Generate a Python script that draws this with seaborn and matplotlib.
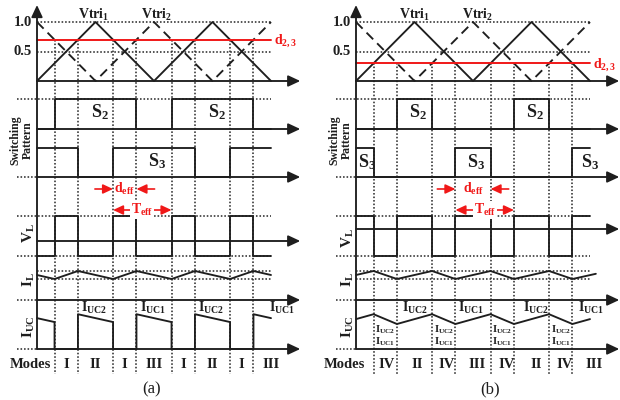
import matplotlib
matplotlib.use("Agg")
import matplotlib.pyplot as plt
import seaborn as sns

# ---------------- data ----------------
tri_t = [0, 1, 2, 3, 4]
vtri1 = [0, 1, 0, 1, 0]
vtri2 = [1, 0, 1, 0, 1]
duty_a = 0.7
duty_b = 0.3
edges = [0, 0.3, 0.7, 1.3, 1.7, 2.3, 2.7, 3.3, 3.7, 4.0]

s2_a = [0, 1, 1, 1, 0, 1, 1, 1, 0]
s3_a = [1, 1, 0, 1, 1, 1, 0, 1, 1]
s2_b = [0, 0, 1, 0, 0, 0, 1, 0, 0]
s3_b = [1, 0, 0, 0, 1, 0, 0, 0, 1]

vl_a = [0, 1, 0, 1, 0, 1, 0, 1, 0]
vl_b = [1, 0, 1, 0, 1, 0, 1, 0, 1]

il_t_a = [0, 0.3, 0.7, 1.3, 1.7, 2.3, 2.7, 3.3, 3.7, 4.0]
il_a = [0.5, 0, 1, 0, 1, 0, 1, 0, 1, 0.5]
il_t_b = [0, 0.3, 0.7, 1.3, 1.7, 2.3, 2.7, 3.3, 3.7, 4.1]
il_b = [0.5, 1, 0, 1, 0, 1, 0, 1, 0, 0.65]

iuc_t_a = [0, 0.3, 0.3, 0.7, 0.7, 1.3, 1.3, 1.7, 1.7, 2.3, 2.3, 2.7, 2.7, 3.3, 3.3, 3.7, 3.7, 4.0]
iuc_a = [0.63, 0.55, 0, 0, 0.71, 0.55, 0, 0, 0.71, 0.55, 0, 0, 0.71, 0.55, 0, 0, 0.71, 0.63]
iuc_t_b = [0, 0.3, 0.7, 1.3, 1.7, 2.3, 2.7, 3.3, 3.7, 4.0]
iuc_b = [0.61, 0.71, 0.51, 0.71, 0.51, 0.71, 0.51, 0.71, 0.51, 0.61]

modes_a = ["I", "II", "I", "III", "I", "II", "I", "III"]
modes_b = ["IV", "II", "IV", "III", "IV", "II", "IV", "III"]
iuc_tags_a = ["UC2", "UC1", "UC2", "UC1"]
iuc_tags_b = ["UC2", "UC1", "UC2", "UC1"]

# ---------------- style ----------------
sns.set_theme(style="white")
SERIF = ["Liberation Serif", "DejaVu Serif"]
plt.rcParams["font.family"] = SERIF
plt.rcParams["mathtext.fontset"] = "custom"
plt.rcParams["mathtext.rm"] = "Liberation Serif:bold"
plt.rcParams["mathtext.it"] = "Liberation Serif:bold"
plt.rcParams["mathtext.bf"] = "Liberation Serif:bold"
plt.rcParams["mathtext.default"] = "rm"

INK = "#1e1e1e"
GREY = "#2e2e2e"
RED = "#f01818"
LW = 1.35

# vertical layout (pixel rows)
TRI_BASE, TRI_AMP = 81, 59
S2_BASE, S2_TOP = 129, 99
S3_BASE, S3_TOP = 177, 148
VL_TOP, VL_BOT = 216, 256
IL_PEAK, IL_TROUGH, IL_AXIS = 271, 279, 300
IUC_AXIS, IUC_SCALE = 349, 49
MODES_Y = 365
UNIT = 58.5
STUB = -0.34
TIP = 4.5

fig = plt.figure(figsize=(6.2, 4.0), dpi=100)
fig.patch.set_facecolor("white")


def make_axes(rect, x0, left, right):
    ax = fig.add_axes(rect)
    ax.set_xlim((left - x0) / UNIT, (right - x0) / UNIT)
    ax.set_ylim(400, 0)
    ax.axis("off")
    return ax


def line(ax, x, y, **kw):
    sns.lineplot(x=x, y=y, ax=ax, sort=False, estimator=None, errorbar=None,
                 legend=False, **kw)


def steps(states):
    xs, ys = [], []
    for i, s in enumerate(states):
        xs += [edges[i], edges[i + 1]]
        ys += [s, s]
    return xs, ys


def arrow(ax, start, end, color=INK, style="-|>", lw=LW, ms=12):
    ax.annotate("", xy=end, xytext=start,
                arrowprops=dict(arrowstyle=style + ",head_length=0.6,head_width=0.28",
                                color=color, lw=lw, shrinkA=0, shrinkB=0,
                                mutation_scale=ms), zorder=4)


def txt(ax, x, y, s, size, color=INK, **kw):
    ax.text(x, y, s, fontsize=size, fontweight="bold", color=color,
            ha=kw.pop("ha", "center"), va=kw.pop("va", "center"), **kw)


def draw_panel(ax, cfg):
    d = cfg["duty"]
    y_d = TRI_BASE - TRI_AMP * d
    dot = dict(color=GREY, lw=1.15, linestyle=(0, (1, 1.2)), zorder=1)
    for y in (TRI_BASE - TRI_AMP * 1.0, TRI_BASE - TRI_AMP * 0.5):
        ax.plot([0, 4.0], [y, y], **dot)
    ax.plot([STUB, 4.0], [S2_TOP] * 2, **dot)
    ax.plot([STUB, 0], [S3_BASE] * 2, **dot)
    ax.plot([STUB, 4.0], [VL_TOP] * 2, **dot)
    ax.plot([STUB, 4.0], [VL_BOT] * 2, **dot)
    ax.plot([0, 4.0], [IL_PEAK] * 2, **dot)
    ax.plot([0, 4.0], [IL_TROUGH] * 2, **dot)
    ax.plot([STUB, 0], [IL_AXIS] * 2, **dot)
    ax.plot([STUB, 0], [IUC_AXIS] * 2, **dot)
    for t in edges[1:-1]:
        ax.plot([t, t], [y_d, 374], **dot)

    # axes with arrows
    for y in (TRI_BASE, S2_BASE, S3_BASE, cfg["vl_axis"], IL_AXIS, IUC_AXIS):
        arrow(ax, (0, y), (TIP, y))
    arrow(ax, (0, IUC_AXIS), (0, 5))

    # carriers and reference
    line(ax, tri_t, [TRI_BASE - TRI_AMP * v for v in vtri1], color=INK, lw=LW)
    line(ax, tri_t, [TRI_BASE - TRI_AMP * v for v in vtri2], color=INK, lw=LW,
         linestyle=(0, (5, 3)))
    ax.plot([0, 4.0], [y_d, y_d], color=RED, lw=1.4, zorder=3)

    # switching patterns
    x, s = steps(cfg["s2"])
    line(ax, x, [S2_BASE - (S2_BASE - S2_TOP) * v for v in s], color=INK, lw=LW)
    x, s = steps(cfg["s3"])
    line(ax, x, [S3_BASE - (S3_BASE - S3_TOP) * v for v in s], color=INK, lw=LW)
    # V_L
    x, s = steps(cfg["vl"])
    line(ax, x, [VL_BOT - (VL_BOT - VL_TOP) * v for v in s], color=INK, lw=LW)
    # I_L
    line(ax, cfg["il_t"], [IL_TROUGH - (IL_TROUGH - IL_PEAK) * v for v in cfg["il"]],
         color=INK, lw=LW)
    # I_UC
    line(ax, cfg["iuc_t"], [IUC_AXIS - IUC_SCALE * v for v in cfg["iuc"]],
         color=INK, lw=LW)

    # texts
    txt(ax, cfg["vtri_x"][0], 15, r"$Vtri_1$", 10)
    txt(ax, cfg["vtri_x"][1], 15, r"$Vtri_2$", 10)
    txt(ax, -0.24, TRI_BASE - TRI_AMP * 1.0, "1.0", 10.5)
    txt(ax, -0.24, TRI_BASE - TRI_AMP * 0.5, "0.5", 10.5)
    txt(ax, 4.05, y_d + 1, r"$d_{2,3}$", 10, color=RED, ha="left")
    txt(ax, -0.26, 140, "Switching\nPattern", 8.5, rotation=90, multialignment="center",
        linespacing=1.05)
    txt(ax, -0.14, cfg["vl_lab"], r"$V_L$", 11, rotation=90)
    txt(ax, -0.14, 280, r"$I_L$", 11, rotation=90)
    txt(ax, -0.14, 327, r"$I_{UC}$", 11, rotation=90)
    for (tx, ty, lab) in cfg["s_labels"]:
        txt(ax, tx, ty, lab, 13)
    for (tx, lab) in zip(cfg["iuc_tag_x"], cfg["iuc_tags"]):
        txt(ax, tx, 308, r"$I_{%s}$" % lab, 10, ha="left")
    txt(ax, cfg["modes_x"], MODES_Y, "Modes", 10.5)
    for tx, m in zip(cfg["mode_pos"], cfg["modes"]):
        txt(ax, tx, MODES_Y, m, 10.5)
    ax.text(cfg["cap_x"], 389, cfg["cap"], fontsize=12, color=INK, ha="center", va="center")

    # d_eff / T_eff annotations
    d0, d1 = cfg["deff"]
    arrow(ax, (d0 - 0.31, 189), (d0, 189), color=RED, lw=1.2, ms=10)
    arrow(ax, (d1 + 0.31, 189), (d1, 189), color=RED, lw=1.2, ms=10)
    txt(ax, (d0 + d1) / 2, 189, r"$d_{eff}$", 10, color=RED)
    t0, t1 = cfg["teff"]
    arrow(ax, (t0, 210), (t1, 210), color=RED, style="<|-|>", lw=1.2, ms=10)
    ax.text((t0 + t1) / 2, 210, r"$T_{eff}$", fontsize=10, color=RED, ha="center",
            va="center", zorder=5,
            bbox=dict(facecolor="white", edgecolor="none", pad=0.5))


ax_a = make_axes([0, 0, 0.5, 1], 37, 0, 310)
ax_b = make_axes([0.5, 0, 0.5, 1], 356, 310, 620)

cfg_a = dict(duty=duty_a, s2=s2_a, s3=s3_a, vl=vl_a, vl_axis=241, vl_lab=233,
             il_t=il_t_a, il=il_a, iuc_t=iuc_t_a, iuc=iuc_a,
             vtri_x=(0.96, 2.05),
             s_labels=[(1.07, 112, r"$S_2$"), (3.08, 112, r"$S_2$"), (2.05, 161, r"$S_3$")],
             iuc_tags=iuc_tags_a, iuc_tag_x=[0.76, 1.76, 2.76, 3.97],
             modes=modes_a, modes_x=-0.12,
             mode_pos=[0.5, 1.0, 1.5, 2.0, 2.5, 3.0, 3.5, 4.0],
             cap="(a)", cap_x=1.95, deff=(1.3, 1.7), teff=(1.3, 2.3))
cfg_b = dict(duty=duty_b, s2=s2_b, s3=s3_b, vl=vl_b, vl_axis=229, vl_lab=238,
             il_t=il_t_b, il=il_b, iuc_t=iuc_t_b, iuc=iuc_b,
             vtri_x=(1.0, 2.07),
             s_labels=[(1.06, 112, r"$S_2$"), (3.06, 112, r"$S_2$"), (0.19, 162, r"$S_3$"),
                       (2.05, 162, r"$S_3$"), (4.0, 162, r"$S_3$")],
             iuc_tags=iuc_tags_b, iuc_tag_x=[0.78, 1.75, 2.85, 3.8],
             modes=modes_b, modes_x=-0.19,
             mode_pos=[0.53, 1.05, 1.55, 2.07, 2.57, 3.08, 3.57, 4.07],
             cap="(b)", cap_x=2.29, deff=(1.7, 2.3), teff=(1.7, 2.7))

draw_panel(ax_a, cfg_a)
draw_panel(ax_b, cfg_b)

# stacked small I_UC tags in mode IV intervals of panel (b)
for t in [0.5, 1.5, 2.5, 3.5]:
    txt(ax_b, t, 330, r"$I_{UC2}$", 7.5)
    txt(ax_b, t, 342, r"$I_{UC1}$", 7.5)

fig.savefig("out.png", dpi=100, facecolor="white")
